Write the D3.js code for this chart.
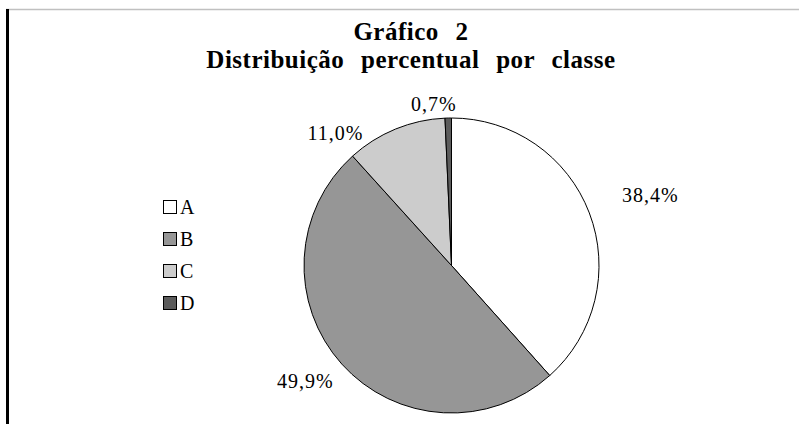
<!DOCTYPE html>
<html>
<head>
<meta charset="utf-8">
<script src="https://cdn.jsdelivr.net/npm/d3@7"></script>
<style>
  body { margin: 0; background: #fff; }
  svg { display: block; }
</style>
</head>
<body>
<div id="chart"></div>
<script>
// data
const categories = ['A', 'B', 'C', 'D'];
const shares = [38.4, 49.9, 11.0, 0.7];
const titleLines = ['Gráfico 2', 'Distribuição percentual por classe'];

const width = 799;
const height = 424;
const fmt = (v) => d3.format('.1f')(v).replace('.', ',') + '%';

const color = d3.scaleOrdinal()
  .domain(categories)
  .range(['#ffffff', '#969696', '#cccccc', '#5c5c5c']);

const svg = d3.select('#chart')
  .append('svg')
  .attr('width', width)
  .attr('height', height)
  .style('font-family', '"Liberation Serif", "Times New Roman", serif');

// frame: thin grey top line, heavy black left line
svg.append('line')
  .attr('x1', 6).attr('x2', width)
  .attr('y1', 9.5).attr('y2', 9.5)
  .attr('stroke', '#c0c0c0')
  .attr('stroke-width', 1.5);
svg.append('line')
  .attr('x1', 7.5).attr('x2', 7.5)
  .attr('y1', 9).attr('y2', height)
  .attr('stroke', '#000')
  .attr('stroke-width', 3);

// title
svg.append('g')
  .selectAll('text')
  .data(titleLines)
  .enter().append('text')
  .attr('x', 411)
  .attr('y', (d, i) => 40 + i * 28)
  .attr('text-anchor', 'middle')
  .attr('font-size', 25)
  .attr('font-weight', 'bold')
  .attr('letter-spacing', 0.5)
  .attr('word-spacing', 10)
  .text((d) => d);

// pie
const cx = 451.5;
const cy = 265.5;
const radius = 147.5;

const pie = d3.pie().sort(null).value((d) => d);
const arcs = pie(shares);
const arc = d3.arc().innerRadius(0).outerRadius(radius);

const g = svg.append('g')
  .attr('transform', `translate(${cx},${cy})`);

g.selectAll('path')
  .data(arcs)
  .enter().append('path')
  .attr('d', arc)
  .attr('fill', (d, i) => color(categories[i]))
  .attr('stroke', '#000')
  .attr('stroke-width', 1);

// data labels: just outside the rim, with hand nudges like the Excel original
const labelPad = 14;
const labelNudge = [[23, -3], [-10, -7], [-50, 28], [-14, 7]];

const labels = g.selectAll('text')
  .data(arcs)
  .enter().append('text')
  .attr('text-anchor', 'middle')
  .attr('font-size', 20)
  .attr('letter-spacing', 1)
  .text((d) => fmt(d.data));

labels.each(function (d, i) {
  const w = this.getComputedTextLength();
  const h = 14;
  const a = (d.startAngle + d.endAngle) / 2;
  const s = Math.sin(a);
  const c = Math.cos(a);
  const e = Math.sqrt((w / 2 * s) ** 2 + (h / 2 * c) ** 2);
  const dist = radius + labelPad + e;
  d3.select(this)
    .attr('x', dist * s + labelNudge[i][0])
    .attr('y', -dist * c + labelNudge[i][1] + h / 2);
});

// legend
const legend = svg.append('g')
  .attr('transform', 'translate(163,200)');

const row = legend.selectAll('g')
  .data(categories)
  .enter().append('g')
  .attr('transform', (d, i) => `translate(0,${i * 32})`);

row.append('rect')
  .attr('x', 0.5)
  .attr('y', 0.5)
  .attr('width', 13)
  .attr('height', 13)
  .attr('fill', (d) => color(d))
  .attr('stroke', '#000')
  .attr('stroke-width', 1);

row.append('text')
  .attr('x', 17)
  .attr('y', 14)
  .attr('font-size', 20)
  .text((d) => d);
</script>
</body>
</html>
